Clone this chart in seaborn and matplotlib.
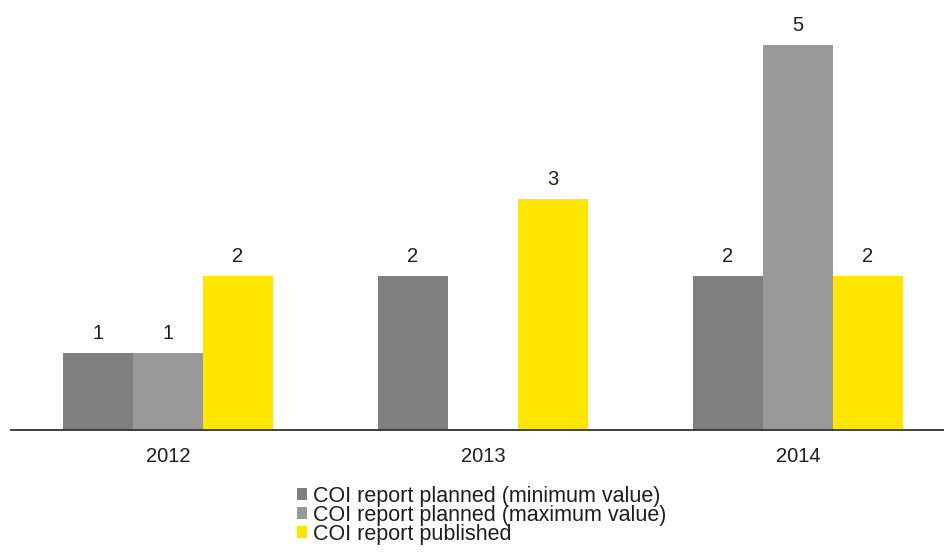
import matplotlib
matplotlib.use("Agg")
import matplotlib.pyplot as plt
import seaborn as sns
import pandas as pd
import numpy as np
from matplotlib.patches import Patch

years = ["2012", "2013", "2014"]
series = ["COI report planned (minimum value)",
          "COI report planned (maximum value)",
          "COI report published"]
planned_min = [1, 2, 2]
planned_max = [1, np.nan, 5]
published = [2, 3, 2]
colors = ["#7f7f7f", "#999999", "#ffe600"]

rows = []
for name, vals in zip(series, [planned_min, planned_max, published]):
    for y, v in zip(years, vals):
        rows.append({"year": y, "series": name, "value": v})
df = pd.DataFrame(rows)

sns.set_theme(style="white")
plt.rcParams["font.family"] = ["Liberation Sans", "DejaVu Sans"]

fig = plt.figure(figsize=(9.44, 5.52), dpi=100)
ax = fig.add_axes([10.5 / 944, 122 / 552, 1 - 10.5 / 944, (430 - 6.5) / 552])

sns.barplot(data=df, x="year", y="value", hue="series", hue_order=series,
            order=years, palette=colors, width=2 / 3, gap=0, ax=ax,
            errorbar=None, saturation=1, legend=False, edgecolor="none")

for c in ax.containers:
    labels = ["" if np.isnan(b.get_height()) else f"{b.get_height():.0f}" for b in c]
    ax.bar_label(c, labels=labels, padding=7.5, fontsize=14.5, color="#1e1e1e")

ax.set_ylim(0, 5.5)
ax.set_xlim(-0.5, -0.5 + 933.5 / 315)
ax.set_xlabel("")
ax.set_ylabel("")
ax.set_yticks([])
for s in ["top", "right", "left"]:
    ax.spines[s].set_visible(False)
ax.spines["bottom"].set_color("#333333")
ax.spines["bottom"].set_linewidth(1.3)
ax.tick_params(axis="x", length=0, pad=12.5, labelsize=14.5, labelcolor="#1e1e1e")

handles = [Patch(facecolor=c, edgecolor="none") for c in colors]
fig.legend(handles, series, loc="upper left", bbox_to_anchor=(297 / 944, 1 - 486 / 552),
           frameon=False, fontsize=15.5, handlelength=0.47, handleheight=0.47,
           handletextpad=0.28, labelspacing=-0.1, borderpad=0, borderaxespad=0,
           labelcolor="#1e1e1e")

fig.savefig("out.png", dpi=100)
